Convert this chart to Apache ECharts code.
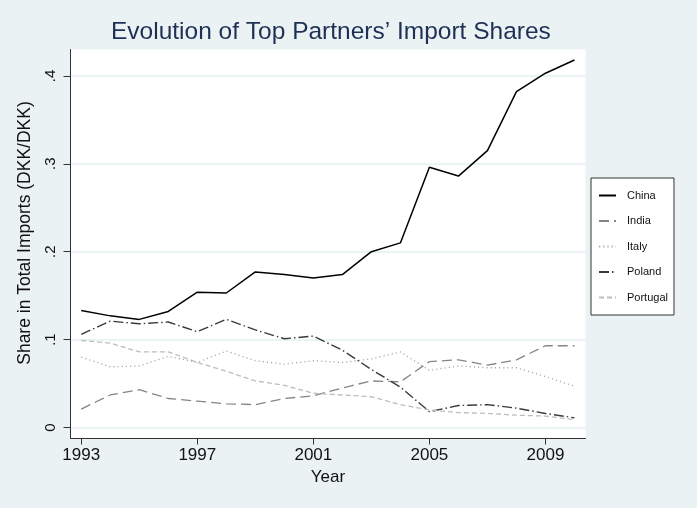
<!DOCTYPE html>
<html>
<head>
<meta charset="utf-8">
<script src="https://cdn.jsdelivr.net/npm/echarts@6/dist/echarts.min.js"></script>
<style>
    html, body { margin: 0; padding: 0; background: #eaf2f3; }
    #chart { width: 697px; height: 508px; }
</style>
</head>
<body>
<div id="chart"></div>
<script>
const years = [1993, 1994, 1995, 1996, 1997, 1998, 1999, 2000, 2001, 2002, 2003, 2004, 2005, 2006, 2007, 2008, 2009, 2010]

const china = [0.133, 0.127, 0.123, 0.132, 0.154, 0.153, 0.177, 0.174, 0.170, 0.174, 0.200, 0.210, 0.296, 0.286, 0.315, 0.382, 0.403, 0.418]
const india = [0.021, 0.037, 0.043, 0.033, 0.030, 0.027, 0.026, 0.033, 0.036, 0.045, 0.053, 0.052, 0.075, 0.077, 0.071, 0.077, 0.093, 0.093]
const italy = [0.080, 0.069, 0.070, 0.081, 0.074, 0.087, 0.076, 0.072, 0.076, 0.074, 0.078, 0.086, 0.065, 0.070, 0.068, 0.068, 0.058, 0.047]
const poland = [0.106, 0.121, 0.118, 0.120, 0.109, 0.123, 0.111, 0.101, 0.104, 0.088, 0.066, 0.046, 0.018, 0.025, 0.026, 0.022, 0.016, 0.011]
const portugal = [0.099, 0.096, 0.086, 0.086, 0.074, 0.064, 0.053, 0.048, 0.039, 0.037, 0.035, 0.026, 0.020, 0.017, 0.016, 0.014, 0.013, 0.009]

const xTicks = [1993, 1997, 2001, 2005, 2009]
const yTicks = [0, 0.1, 0.2, 0.3, 0.4]
const yTickLabels = ['0', '.1', '.2', '.3', '.4']

const font = 'Liberation Sans, Arial, sans-serif'

const pairs = (vals) => years.map((y, i) => [y, vals[i]])

const makeSeries = (name, vals, color, type, width) => ({
    name: name,
    type: 'line',
    data: pairs(vals),
    symbol: 'none',
    showSymbol: false,
    silent: true,
    animation: false,
    lineStyle: { color: color, width: width, type: type },
    itemStyle: { color: color }
})

const myChart = echarts.init(document.getElementById('chart'), null, { renderer: 'canvas' })

const option = {
    backgroundColor: '#eaf2f3',
    animation: false,
    title: {
        text: 'Evolution of Top Partners\u2019 Import Shares',
        left: 106,
        top: 15,
        textStyle: { fontFamily: font, fontSize: 24.5, fontWeight: 'normal', color: '#1e3056' }
    },
    grid: {
        left: 70.5,
        right: 111.5,
        top: 49.5,
        bottom: 69.5,
        show: true,
        backgroundColor: '#ffffff',
        borderWidth: 0
    },
    legend: {
        orient: 'vertical',
        left: 591,
        top: 178,
        width: 83,
        padding: [12, 6, 12, 7],
        backgroundColor: '#ffffff',
        borderColor: '#333333',
        borderWidth: 1,
        itemWidth: 17,
        itemHeight: 10,
        itemGap: 14.5,
        itemStyle: { opacity: 0 },
        textStyle: { fontFamily: font, fontSize: 11, color: '#111111', padding: [0, 0, 0, 6] },
        data: ['China', 'India', 'Italy', 'Poland', 'Portugal']
    },
    xAxis: {
        type: 'value',
        min: 1992.63,
        max: 2010.38,
        name: 'Year',
        nameLocation: 'middle',
        nameGap: 26,
        nameTextStyle: { fontFamily: font, fontSize: 17, color: '#111111' },
        axisLine: { show: true, onZero: false, lineStyle: { color: '#333333', width: 1 } },
        axisTick: { show: true, length: 6, customValues: xTicks, lineStyle: { color: '#333333' } },
        axisLabel: {
            customValues: xTicks,
            margin: 8,
            fontFamily: font,
            fontSize: 17,
            color: '#111111',
            formatter: (v) => String(v)
        },
        splitLine: { show: false }
    },
    yAxis: {
        type: 'value',
        min: -0.0125,
        max: 0.43,
        name: 'Share in Total Imports (DKK/DKK)',
        nameLocation: 'middle',
        nameGap: 36,
        nameTextStyle: { fontFamily: font, fontSize: 17.5, color: '#111111', padding: [0, 0, 0, 22] },
        axisLine: { show: true, onZero: false, lineStyle: { color: '#333333', width: 1 } },
        axisTick: { show: true, length: 7, customValues: yTicks, lineStyle: { color: '#333333' } },
        axisLabel: {
            customValues: yTicks,
            rotate: 90,
            margin: 12,
            fontFamily: font,
            fontSize: 15,
            color: '#111111',
            formatter: (v) => yTickLabels[yTicks.findIndex(t => Math.abs(t - v) < 1e-6)] ?? ''
        },
        splitLine: { show: true, lineStyle: { color: '#e6eff1', width: 1.5 } }
    },
    series: [
        makeSeries('China', china, '#000000', 'solid', 1.5),
        makeSeries('India', india, '#858585', [10, 5], 1.3),
        makeSeries('Italy', italy, '#ababab', [1.2, 3], 1.3),
        makeSeries('Poland', poland, '#3a3a3a', [10, 3, 1.5, 3], 1.4),
        makeSeries('Portugal', portugal, '#bdbdbd', [5, 3], 1.3)
    ]
}
myChart.setOption(option)
</script>
</body>
</html>
